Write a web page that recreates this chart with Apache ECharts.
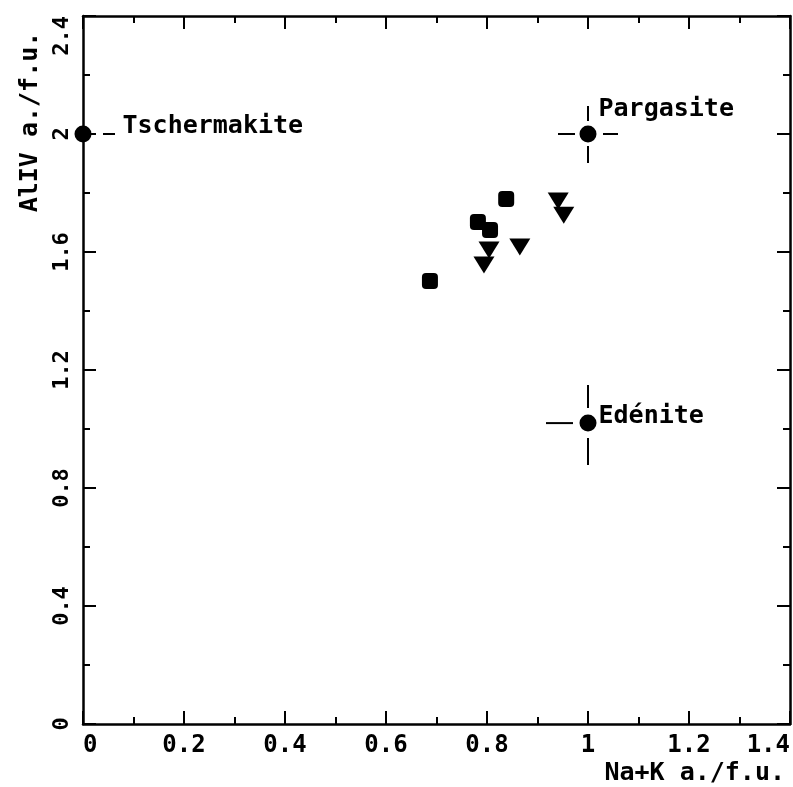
<!DOCTYPE html>
<html>
<head>
<meta charset="utf-8">
<script src="https://cdn.jsdelivr.net/npm/echarts@6/dist/echarts.min.js"></script>
<style>
  html, body { margin: 0; padding: 0; background: #fff; }
  #chart { width: 793px; height: 787px; }
</style>
</head>
<body>
<div id="chart"></div>
<script>
// Amphibole analyses: Na+K against tetrahedral Al (atoms per formula unit)
const squareNaK = [0.838, 0.782, 0.806, 0.687];
const squareAlIV = [1.780, 1.702, 1.675, 1.502];
const triangleNaK = [0.941, 0.952, 0.865, 0.804, 0.794];
const triangleAlIV = [1.773, 1.725, 1.617, 1.607, 1.556];

// End-member compositions
const endMemberNames = ['Tschermakite', 'Pargasite', 'Edénite'];
const endMemberNaK = [0, 1.0, 1.0];
const endMemberAlIV = [2.0, 2.0, 1.02];

// Field name placed inside the diagram
const fieldNames = ['Hornblende'];
const fieldNaK = [0.535];
const fieldAlIV = [1.044];

// Axis titles
const xTitle = 'Na+K a./f.u.';
const yTitle = 'AlIV a./f.u.';

const FONT = '"DejaVu Sans Mono", "Liberation Mono", monospace';

// Cross-hair arms around each end-member point: [gap from centre, length] in px
const crossArms = {
  'Tschermakite': { right: [20, 12] },
  'Pargasite': { left: [13, 17], right: [15, 15], up: [13, 15], down: [12, 17] },
  'Edénite': { left: [15, 27], up: [15, 23], down: [15, 27] }
};
// Label placement next to each end-member: [distance right of symbol, vertical offset]
const endLabelPlace = {
  'Tschermakite': [31, -8],
  'Pargasite': [2, -25],
  'Edénite': [2, -7]
};

const zip = (a, b) => a.map((v, i) => [v, b[i]]);

const axisLineStyle = { color: '#000', width: 2.5 };
const tickStyle = { color: '#000', width: 2 };

function xAxisDef(pos, showLabels) {
  return {
    type: 'value', position: pos, min: 0, max: 1.4, interval: 0.2,
    axisLine: { show: true, onZero: false, lineStyle: axisLineStyle },
    axisTick: { show: true, inside: true, length: 13, lineStyle: tickStyle },
    minorTick: { show: true, splitNumber: 2, length: 7, lineStyle: tickStyle },
    splitLine: { show: false },
    minorSplitLine: { show: false },
    axisLabel: {
      show: showLabels, margin: 10, color: '#000',
      fontFamily: FONT, fontSize: 24, fontWeight: 'bold',
      alignMinLabel: 'left', alignMaxLabel: 'right'
    }
  };
}
function yAxisDef(pos, showLabels) {
  return {
    type: 'value', position: pos, min: 0, max: 2.4, interval: 0.4,
    axisLine: { show: true, onZero: false, lineStyle: axisLineStyle },
    axisTick: { show: true, inside: true, length: 13, lineStyle: tickStyle },
    minorTick: { show: true, splitNumber: 2, length: 7, lineStyle: tickStyle },
    splitLine: { show: false },
    minorSplitLine: { show: false },
    axisLabel: {
      show: showLabels, rotate: 90, margin: 10, color: '#000',
      fontFamily: FONT, fontSize: 22, fontWeight: 'bold',
      alignMaxLabel: 'right'
    }
  };
}

const chart = echarts.init(document.getElementById('chart'));

const endData = endMemberNames.map((n, i) => {
  const pl = endLabelPlace[n];
  return {
    name: n,
    value: [endMemberNaK[i], endMemberAlIV[i]],
    label: { show: true, position: 'right', distance: pl[0], offset: [0, pl[1]] }
  };
});

const solid = { color: '#000', opacity: 1 };

chart.setOption({
  animation: false,
  backgroundColor: '#fff',
  grid: {
    left: 83, right: 3, top: 16, bottom: 63,
    containLabel: false, outerBoundsMode: 'none'
  },
  xAxis: [xAxisDef('bottom', true), xAxisDef('top', false)],
  yAxis: [yAxisDef('left', true), yAxisDef('right', false)],
  graphic: [
    {
      type: 'text', x: 785, y: 773,
      style: {
        text: xTitle, fill: '#000', font: 'bold 25px ' + FONT,
        align: 'right', verticalAlign: 'middle',
        textAlign: 'right', textVerticalAlign: 'middle'
      }
    },
    {
      type: 'text', x: 30, y: 122, rotation: Math.PI / 2,
      style: {
        text: yTitle, fill: '#000', font: 'bold 25px ' + FONT,
        align: 'center', verticalAlign: 'middle',
        textAlign: 'center', textVerticalAlign: 'middle'
      }
    }
  ],
  series: [
    {
      type: 'custom',
      name: 'cross',
      silent: true,
      data: zip(endMemberNaK, endMemberAlIV),
      renderItem: function (params, api) {
        const p = api.coord([api.value(0), api.value(1)]);
        const arms = crossArms[endMemberNames[params.dataIndex]];
        const dirs = { left: [-1, 0], right: [1, 0], up: [0, -1], down: [0, 1] };
        const children = [];
        Object.keys(arms).forEach(function (k) {
          const g = arms[k][0], l = arms[k][1];
          const d = dirs[k];
          children.push({
            type: 'line',
            shape: {
              x1: p[0] + d[0] * g, y1: p[1] + d[1] * g,
              x2: p[0] + d[0] * (g + l), y2: p[1] + d[1] * (g + l)
            },
            style: { stroke: '#000', lineWidth: 2 }
          });
        });
        return { type: 'group', children: children };
      }
    },
    {
      type: 'scatter',
      name: 'end members',
      clip: false,
      symbol: 'circle',
      symbolSize: 17,
      itemStyle: solid,
      label: {
        color: '#000', fontFamily: FONT, fontSize: 25, fontWeight: 'bold',
        formatter: '{b}'
      },
      data: endData
    },
    {
      type: 'scatter',
      name: 'squares',
      symbol: 'roundRect',
      symbolSize: 16,
      itemStyle: solid,
      data: zip(squareNaK, squareAlIV)
    },
    {
      type: 'scatter',
      name: 'triangles',
      symbol: 'triangle',
      symbolRotate: 180,
      symbolSize: [21, 17],
      itemStyle: solid,
      data: zip(triangleNaK, triangleAlIV)
    },
    {
      type: 'scatter',
      name: 'field',
      symbol: 'none',
      silent: true,
      label: {
        show: true, position: 'inside', formatter: '{b}',
        color: '#000', fontFamily: FONT, fontSize: 25, fontWeight: 'bold'
      },
      data: fieldNames.map((n, i) => ({ name: n, value: [fieldNaK[i], fieldAlIV[i]] }))
    }
  ]
});
</script>
</body>
</html>
